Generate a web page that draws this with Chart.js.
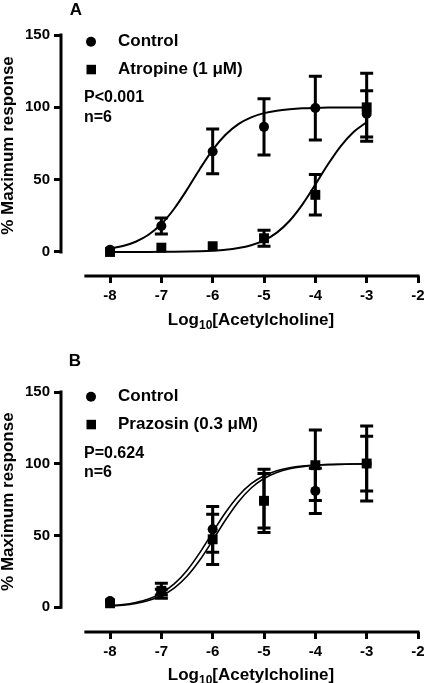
<!DOCTYPE html>
<html><head><meta charset="utf-8">
<script src="https://cdn.jsdelivr.net/npm/chart.js@4.4.1/dist/chart.umd.min.js"></script>
<style>
html,body{margin:0;padding:0;background:#fff;overflow:hidden;width:425px;height:683px;}
.panel{position:absolute;left:0;width:425px;overflow:hidden;}
#pa{top:0;height:340px;}
#pb{top:340px;height:343px;}
canvas{display:block;}
</style></head><body>
<div class="panel" id="pa"><canvas id="ca" width="425" height="340"></canvas></div>
<div class="panel" id="pb"><canvas id="cb" width="425" height="343"></canvas></div>
<script>
// ---- shared axes ----
const logConc = [-8, -7, -6, -5, -4, -3];
const xTicks = [-8, -7, -6, -5, -4, -3, -2];
const yTicks = [0, 50, 100, 150];
const curveX = [-8, -7.75, -7.5, -7.25, -7, -6.75, -6.5, -6.25, -6, -5.75, -5.5, -5.25, -5, -4.75, -4.5, -4.25, -4, -3.75, -3.5, -3.25, -3];
const xTitleMain = "Log";
const xTitleSub = "10";
const xTitleRest = "[Acetylcholine]";
const yTitle = "% Maximum response";

// ---- panel A ----
const aLetter = "A";
const aLabels = ["Control", "Atropine (1 \u03bcM)"];
const aNotes = ["P<0.001", "n=6"];
const aControlMean = [1.5, 18, 69.5, 86.5, 99.5, 95.5];
const aControlSem = [0, 5.5, 15.5, 19.5, 22, 16];
const aAtropineMean = [0, 3, 4, 9.5, 39.5, 100];
const aAtropineSem = [0, 0, 0, 5.5, 14, 23.5];
const aControlFit = [2.3, 4.1, 7.1, 11.9, 19.3, 29.9, 43.1, 57.4, 70.6, 81.0, 88.4, 93.1, 96.0, 97.7, 98.7, 99.3, 99.6, 99.8, 99.9, 99.9, 100];
const aAtropineFit = [0.01, 0.02, 0.03, 0.05, 0.09, 0.15, 0.27, 0.49, 0.86, 1.5, 2.7, 4.7, 8.0, 13.4, 21.6, 32.9, 46.6, 60.8, 73.4, 83.1, 89.7];

// ---- panel B ----
const bLetter = "B";
const bLabels = ["Control", "Prazosin (0.3 \u03bcM)"];
const bNotes = ["P=0.624", "n=6"];
const bControlMean = [4.4, 10.5, 54.3, 74.3, 81.1, 100.1];
const bControlSem = [0, 2, 16, 19, 15.7, 19.1];
const bPrazosinMean = [2.8, 11.5, 47.4, 74.2, 99, 100.2];
const bPrazosinSem = [0, 5.2, 17.5, 22, 24.6, 26.2];
const bControlFit = [1.1, 1.9, 3.4, 5.8, 9.9, 16.3, 25.7, 38.1, 52.3, 66.1, 77.6, 86.1, 91.6, 95.1, 97.2, 98.4, 99.1, 99.5, 99.7, 99.8, 99.9];
const bPrazosinFit = [0.9, 1.5, 2.7, 4.7, 8.0, 13.4, 21.6, 32.9, 46.6, 60.8, 73.4, 83.1, 89.7, 93.9, 96.5, 98.0, 98.9, 99.4, 99.6, 99.8, 99.9];

const FONT = '"Liberation Sans", Arial, Helvetica, sans-serif';

function buildPanel(canvasId, P) {
  const drawErr = (ctx, xs, ys, mean, sem) => {
    ctx.lineWidth = 3;
    for (let i = 0; i < logConc.length; i++) {
      if (!(sem[i] > 0)) continue;
      const px = xs.getPixelForValue(logConc[i]);
      const t = ys.getPixelForValue(mean[i] + sem[i]);
      const b = ys.getPixelForValue(mean[i] - sem[i]);
      ctx.beginPath();
      ctx.moveTo(px, t); ctx.lineTo(px, b);
      ctx.moveTo(px - 6.5, t); ctx.lineTo(px + 6.5, t);
      ctx.moveTo(px - 6.5, b); ctx.lineTo(px + 6.5, b);
      ctx.stroke();
    }
  };
  const plugin = {
    id: 'panelDeco',
    beforeDatasetsDraw(chart) {
      const ctx = chart.ctx, xs = chart.scales.x, ys = chart.scales.y;
      ctx.save();
      ctx.strokeStyle = '#000';
      drawErr(ctx, xs, ys, P.mean1, P.sem1);
      drawErr(ctx, xs, ys, P.mean2, P.sem2);
      ctx.restore();
    },
    afterDraw(chart) {
      const ctx = chart.ctx, xs = chart.scales.x, ys = chart.scales.y, ca = chart.chartArea;
      ctx.save();
      ctx.strokeStyle = '#000'; ctx.fillStyle = '#000'; ctx.lineWidth = 3;
      // y axis line (0..150)
      ctx.beginPath();
      ctx.moveTo(ca.left, ys.getPixelForValue(yTicks[0]) + 1.5);
      ctx.lineTo(ca.left, ys.getPixelForValue(yTicks[yTicks.length - 1]) - 1.5);
      ctx.stroke();
      // x axis line (detached)
      ctx.beginPath();
      ctx.moveTo(xs.getPixelForValue(-8.5), ca.bottom);
      ctx.lineTo(xs.getPixelForValue(xTicks[xTicks.length - 1]) + 1.5, ca.bottom);
      ctx.stroke();
      // panel letter
      ctx.font = 'bold 17px ' + FONT;
      ctx.textAlign = 'center'; ctx.textBaseline = 'middle';
      ctx.fillText(P.letter, P.letterX, P.letterY);
      // legend
      ctx.beginPath(); ctx.arc(91, P.leg1Y, 5, 0, Math.PI * 2); ctx.fill();
      ctx.fillRect(86.5, P.leg2Y - 4.5, 9.5, 9.5);
      ctx.textAlign = 'left';
      ctx.font = 'bold 17px ' + FONT;
      ctx.fillText(P.labels[0], 118, P.leg1Y);
      ctx.fillText(P.labels[1], 118, P.leg2Y);
      ctx.font = 'bold 16px ' + FONT;
      ctx.fillText(P.notes[0], 84, P.note1Y);
      ctx.fillText(P.notes[1], 84, P.note2Y);
      // x title with subscript
      ctx.textBaseline = 'alphabetic';
      ctx.font = 'bold 17px ' + FONT;
      const w1 = ctx.measureText(xTitleMain).width;
      const w3 = ctx.measureText(xTitleRest).width;
      ctx.font = 'bold 12px ' + FONT;
      const w2 = ctx.measureText(xTitleSub).width;
      let sx = P.xTitleX - (w1 + w2 + w3) / 2;
      const by = P.xTitleY + 6;
      ctx.font = 'bold 17px ' + FONT;
      ctx.fillText(xTitleMain, sx, by);
      ctx.font = 'bold 12px ' + FONT;
      ctx.fillText(xTitleSub, sx + w1, by + 4);
      ctx.font = 'bold 17px ' + FONT;
      ctx.fillText(xTitleRest, sx + w1 + w2, by);
      // y title
      const cy = (ys.getPixelForValue(0) + ys.getPixelForValue(150)) / 2 + 2;
      ctx.translate(13, cy);
      ctx.rotate(-Math.PI / 2);
      ctx.textAlign = 'center'; ctx.textBaseline = 'alphabetic';
      ctx.fillText(yTitle, 0, 0);
      ctx.restore();
    }
  };
  const tickFont = { family: FONT, size: 15, weight: 'bold' };
  const grid = { display: true, drawOnChartArea: false, drawTicks: true, tickLength: 7, tickWidth: 3, tickColor: '#000' };
  return new Chart(document.getElementById(canvasId), {
    type: 'scatter',
    data: {
      datasets: [
        { type: 'line', data: curveX.map((x, i) => ({ x, y: P.fit1[i] })), borderColor: '#000', borderWidth: P.lw, pointRadius: 0, cubicInterpolationMode: 'monotone', fill: false },
        { type: 'line', data: curveX.map((x, i) => ({ x, y: P.fit2[i] })), borderColor: '#000', borderWidth: P.lw, pointRadius: 0, cubicInterpolationMode: 'monotone', fill: false },
        { type: 'scatter', data: logConc.map((x, i) => ({ x, y: P.mean1[i] })), pointStyle: 'circle', pointRadius: 5, backgroundColor: '#000', borderColor: '#000', borderWidth: 0 },
        { type: 'scatter', data: logConc.map((x, i) => ({ x, y: P.mean2[i] })), pointStyle: 'rect', pointRadius: 7, backgroundColor: '#000', borderColor: '#000', borderWidth: 0 }
      ]
    },
    options: {
      responsive: false, animation: false, devicePixelRatio: 1, events: [],
      layout: { padding: { top: P.top, right: 7, left: 0, bottom: 0 } },
      plugins: { legend: { display: false }, tooltip: { enabled: false } },
      scales: {
        x: {
          type: 'linear', min: -8.955, max: -2,
          afterBuildTicks: s => { s.ticks = xTicks.map(v => ({ value: v })); },
          afterFit: s => { s.height = P.xh; s.paddingLeft = 0; s.paddingRight = 0; },
          grid, border: { display: false },
          ticks: { color: '#000', font: tickFont, padding: 4, maxRotation: 0, autoSkip: false, callback: v => String(v) }
        },
        y: {
          type: 'linear', min: P.yMin, max: 150,
          afterBuildTicks: s => { s.ticks = yTicks.map(v => ({ value: v })); },
          afterFit: s => { s.width = 61; s.paddingTop = 0; s.paddingBottom = 0; },
          grid, border: { display: false },
          ticks: { color: '#000', font: tickFont, padding: 4, autoSkip: false, callback: v => String(v) }
        }
      }
    },
    plugins: [plugin]
  });
}

buildPanel('ca', {
  letter: aLetter, labels: aLabels, notes: aNotes,
  mean1: aControlMean, sem1: aControlSem, mean2: aAtropineMean, sem2: aAtropineSem,
  fit1: aControlFit, fit2: aAtropineFit, lw: 2,
  top: 35, xh: 64, yMin: -16.6,
  letterX: 76, letterY: 10, leg1Y: 41.7, leg2Y: 69.3, note1Y: 97.3, note2Y: 117.3,
  xTitleX: 251, xTitleY: 319
});
buildPanel('cb', {
  letter: bLetter, labels: bLabels, notes: bNotes,
  mean1: bControlMean, sem1: bControlSem, mean2: bPrazosinMean, sem2: bPrazosinSem,
  fit1: bControlFit, fit2: bPrazosinFit, lw: 1.6,
  top: 52, xh: 51, yMin: -17.2,
  letterX: 75, letterY: 21, leg1Y: 56.7, leg2Y: 84.3, note1Y: 113.3, note2Y: 132.3,
  xTitleX: 251, xTitleY: 334
});
</script>
</body></html>
